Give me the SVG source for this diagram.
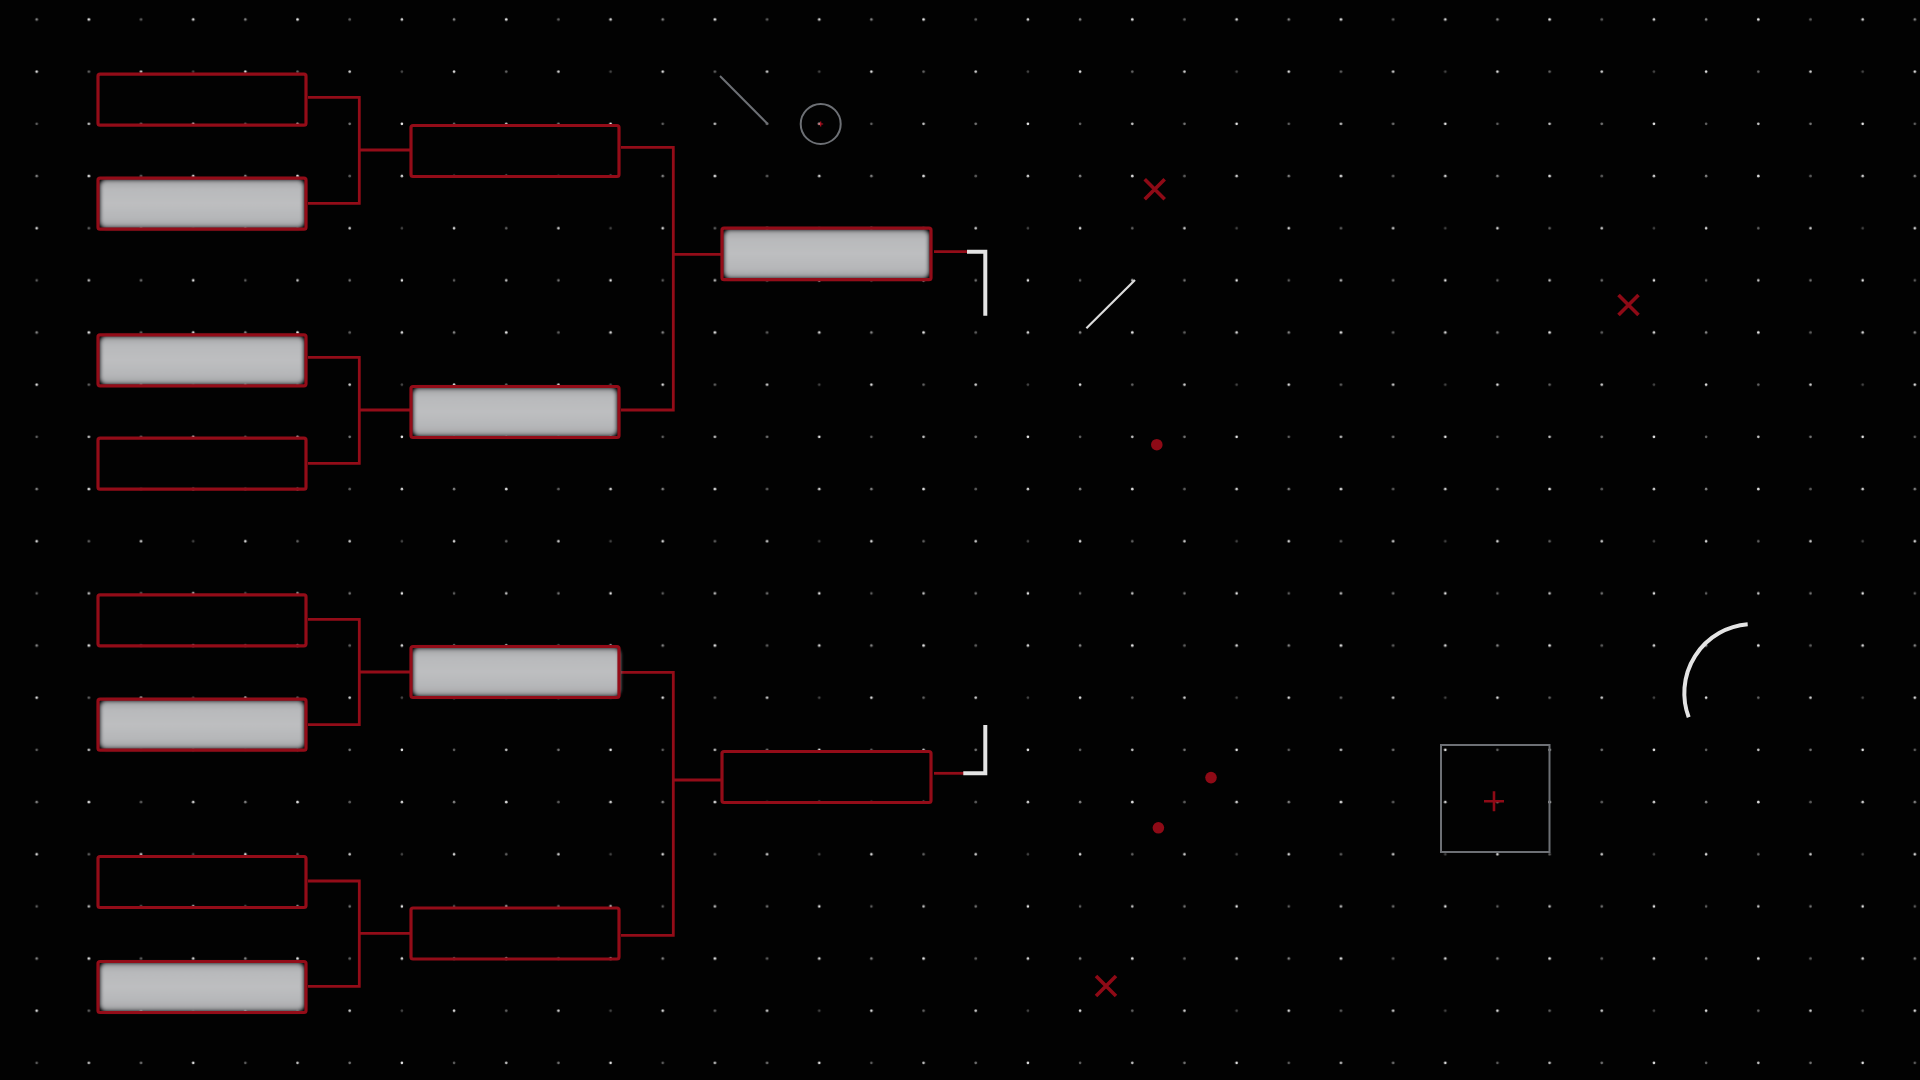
<svg xmlns="http://www.w3.org/2000/svg" width="1920" height="1080" viewBox="0 0 1920 1080">
<style>
.box{fill:none;stroke:#930c18;stroke-width:3.2}
.fill{fill:url(#gg);stroke:#76777a;stroke-width:3;filter:url(#soft)}
.conn{fill:none;stroke:#930c18;stroke-width:2.8}
.white{fill:none;stroke:#e4e4e4;stroke-width:4}
.mark{fill:none;stroke:#8e0a16;stroke-width:3.6}
.gray{fill:none;stroke:#6d7075;stroke-width:2}
.dot{fill:#8e0a16}
</style>
<defs>
<linearGradient id="gg" x1="0" y1="0" x2="0" y2="1">
<stop offset="0" stop-color="#a4a5a7"/>
<stop offset="0.18" stop-color="#b8b9bb"/>
<stop offset="0.5" stop-color="#bdbec0"/>
<stop offset="0.82" stop-color="#b5b6b8"/>
<stop offset="1" stop-color="#a2a3a5"/>
</linearGradient>
<filter id="soft" x="-5%" y="-20%" width="110%" height="140%"><feGaussianBlur stdDeviation="1.6"/></filter>
<pattern id="grid" patternUnits="userSpaceOnUse" x="10.615" y="-6.585" width="208.68" height="156.51">
<g fill="#e8e8e8">
<circle cx="26.085" cy="26.085" r="1.3" opacity="0.55"/>
<circle cx="78.255" cy="26.085" r="1.3" opacity="1"/>
<circle cx="130.425" cy="26.085" r="1.3" opacity="0.4"/>
<circle cx="182.595" cy="26.085" r="1.3" opacity="0.9"/>
<circle cx="26.085" cy="78.255" r="1.3" opacity="1"/>
<circle cx="78.255" cy="78.255" r="1.3" opacity="0.45"/>
<circle cx="130.425" cy="78.255" r="1.3" opacity="0.95"/>
<circle cx="182.595" cy="78.255" r="1.3" opacity="0.3"/>
<circle cx="26.085" cy="130.425" r="1.3" opacity="0.4"/>
<circle cx="78.255" cy="130.425" r="1.3" opacity="0.85"/>
<circle cx="130.425" cy="130.425" r="1.3" opacity="0.5"/>
<circle cx="182.595" cy="130.425" r="1.3" opacity="1"/>
</g>
</pattern>
</defs>
<rect width="1920" height="1080" fill="#020202"/>
<rect width="1920" height="1080" fill="url(#grid)"/>

<g id="connectors">
<path class="conn" d="M308 97.3H359.3V203.3H308M359.3 150H412"/>
<path class="conn" d="M308 357.3H359.3V463.3H308M359.3 410H412"/>
<path class="conn" d="M308 619.3H359.3V724.7H308M359.3 672H412"/>
<path class="conn" d="M308 881H359.3V986.3H308M359.3 933.3H412"/>
<path class="conn" d="M621 147.3H673.3V410H621M673.3 254.3H722"/>
<path class="conn" d="M621 672.3H673.3V935.3H621M673.3 780H722"/>
<path class="conn" d="M934 251.7H968"/>
<path class="conn" d="M934 773.3H964"/>
<path class="white" d="M967 251.7H985.3V315.7"/>
<path class="white" d="M963.3 773.3H985.3V725"/>
</g>

<g id="r1-1"><rect class="box" x="98" y="74.2" width="208" height="51" rx="2"/></g>
<g id="r1-2"><rect class="fill" x="100.5" y="180.5" width="203" height="46.5" rx="6"/><rect class="box" x="98" y="178.2" width="208" height="51" rx="2"/></g>
<g id="r1-3"><rect class="fill" x="100.5" y="337" width="203" height="46.5" rx="6"/><rect class="box" x="98" y="334.8" width="208" height="51" rx="2"/></g>
<g id="r1-4"><rect class="box" x="98" y="438.2" width="208" height="51" rx="2"/></g>
<g id="r1-5"><rect class="box" x="98" y="594.8" width="208" height="51" rx="2"/></g>
<g id="r1-6"><rect class="fill" x="100.5" y="701.5" width="203" height="46.5" rx="6"/><rect class="box" x="98" y="699.2" width="208" height="51" rx="2"/></g>
<g id="r1-7"><rect class="box" x="98" y="856.5" width="208" height="51" rx="2"/></g>
<g id="r1-8"><rect class="fill" x="100.5" y="963.8" width="203" height="46.5" rx="6"/><rect class="box" x="98" y="961.5" width="208" height="51" rx="2"/></g>

<g id="r2-1"><rect class="box" x="411" y="125.5" width="208" height="51" rx="2"/></g>
<g id="r2-2"><rect class="fill" x="413.5" y="388.8" width="203" height="46.5" rx="6"/><rect class="box" x="411" y="386.5" width="208" height="51" rx="2"/></g>
<g id="r2-3"><rect class="fill" x="413.5" y="648.8" width="206" height="46.5" rx="6"/><rect class="box" x="411" y="646.5" width="208" height="51" rx="2"/></g>
<g id="r2-4"><rect class="box" x="411" y="908" width="208" height="51" rx="2"/></g>

<g id="r3-1"><rect class="fill" x="724.5" y="230.5" width="204" height="47" rx="6"/><rect class="box" x="722" y="228.2" width="209" height="51.5" rx="2"/></g>
<g id="r3-2"><rect class="box" x="722" y="751.5" width="209" height="51" rx="2"/></g>

<g id="decor">
<line class="gray" x1="720" y1="76" x2="767.7" y2="124" stroke-width="1.6"/>
<circle class="gray" cx="820.7" cy="124" r="20" stroke-width="2.2"/>
<path d="M818.2 124H823.2M820.7 121.5V126.5" stroke="#b01020" stroke-width="1.2"/>
<line x1="1086.4" y1="328.3" x2="1135" y2="280" stroke="#dcdcdc" stroke-width="2.2"/>
<path class="mark" d="M1144.7 179.3L1164.7 199.3M1164.7 179.3L1144.7 199.3"/>
<path class="mark" d="M1618.5 295L1638.5 315M1638.5 295L1618.5 315"/>
<path class="mark" d="M1096 976L1116 996M1116 976L1096 996"/>
<circle class="dot" cx="1156.8" cy="444.7" r="5.8"/>
<circle class="dot" cx="1211" cy="777.6" r="5.8"/>
<circle class="dot" cx="1158.4" cy="827.8" r="5.8"/>
<rect class="gray" x="1441" y="745" width="108.5" height="107" stroke-width="2"/>
<path d="M1484 801.3H1504M1494 791.3V811.3" stroke="#8e0a16" stroke-width="2.6"/>
<path d="M1747.7 624.3A69 69 0 0 0 1688.7 717.3" fill="none" stroke="#e4e4e4" stroke-width="4"/>
</g>
</svg>
